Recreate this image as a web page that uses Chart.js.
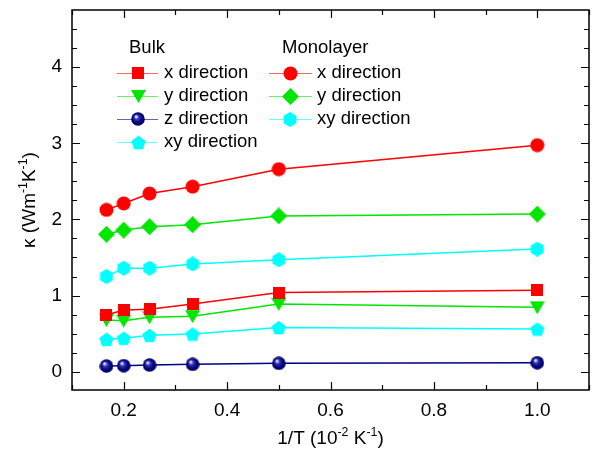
<!DOCTYPE html>
<html>
<head>
<meta charset="utf-8">
<script src="https://cdn.jsdelivr.net/npm/chart.js@4/dist/chart.umd.min.js"></script>
<style>
html,body{margin:0;padding:0;background:#fff;}
#wrap{width:598px;height:452px;position:relative;}
</style>
</head>
<body>
<div id="wrap"><canvas id="c" width="598" height="452"></canvas></div>
<script>
// ---- data ----
const invT = [0.1667, 0.2, 0.25, 0.3333, 0.5, 1.0];
const bulkX = [0.745, 0.81, 0.82, 0.89, 1.04, 1.07];
const bulkY = [0.68, 0.67, 0.715, 0.73, 0.89, 0.845];
const bulkZ = [0.075, 0.08, 0.088, 0.097, 0.11, 0.118];
const bulkXY = [0.425, 0.44, 0.478, 0.495, 0.58, 0.56];
const monoX = [2.125, 2.21, 2.34, 2.43, 2.66, 2.975];
const monoY = [1.805, 1.86, 1.905, 1.93, 2.046, 2.07];
const monoXY = [1.25, 1.36, 1.36, 1.415, 1.47, 1.61];
const xTicks = [0.2, 0.4, 0.6, 0.8, 1.0];
const xTickLabels = ['0.2', '0.4', '0.6', '0.8', '1.0'];
const yTicks = [0, 1, 2, 3, 4];
const yTickLabels = ['0', '1', '2', '3', '4'];
const groupTitles = ['Bulk', 'Monolayer'];
const seriesLabels = ['x direction', 'y direction', 'z direction', 'xy direction', 'x direction', 'y direction', 'xy direction'];

const FONT = '"Liberation Sans", Arial, sans-serif';
const RED = '#ff0000', GREEN = '#00e600', NAVY = '#000080', CYAN = '#00ffff';

function mk(w, h, fn) {
  const c = document.createElement('canvas');
  c.width = w; c.height = h;
  const g = c.getContext('2d');
  fn(g, w, h);
  return c;
}
function poly(g, cx, cy, r, n, rot) {
  g.beginPath();
  for (let i = 0; i < n; i++) {
    const a = rot + i * 2 * Math.PI / n;
    const px = cx + r * Math.cos(a), py = cy + r * Math.sin(a);
    if (i === 0) g.moveTo(px, py); else g.lineTo(px, py);
  }
  g.closePath();
}
const mSquare = mk(12, 12, (g) => { g.fillStyle = RED; g.fillRect(0, 0, 12, 12); });
const mCircle = mk(15, 15, (g) => { g.fillStyle = RED; g.beginPath(); g.arc(7.5, 7.5, 7, 0, 2 * Math.PI); g.fill(); });
const mTri = mk(15, 14, (g) => { g.fillStyle = GREEN; g.beginPath(); g.moveTo(0, 1); g.lineTo(15, 1); g.lineTo(7.5, 14); g.closePath(); g.fill(); });
const mDiamond = mk(17, 17, (g) => { g.fillStyle = GREEN; g.beginPath(); g.moveTo(8.5, 0); g.lineTo(17, 8.5); g.lineTo(8.5, 17); g.lineTo(0, 8.5); g.closePath(); g.fill(); });
const mHex = mk(14, 15, (g) => { g.fillStyle = CYAN; poly(g, 7, 7.5, 7.4, 6, -Math.PI / 2); g.fill(); });
const mPent = mk(15, 15, (g) => { g.fillStyle = CYAN; poly(g, 7.5, 8.2, 7.5, 5, -Math.PI / 2); g.fill(); });
const mBall = mk(14, 14, (g) => {
  const gr = g.createRadialGradient(5, 4.5, 0.5, 7, 7, 7);
  gr.addColorStop(0, '#e8e8ff');
  gr.addColorStop(0.3, '#3030a8');
  gr.addColorStop(0.7, '#000080');
  gr.addColorStop(1, '#00004a');
  g.fillStyle = gr; g.beginPath(); g.arc(7, 7, 6.8, 0, 2 * Math.PI); g.fill();
});

function pts(ys) { return invT.map((x, i) => ({ x: x, y: ys[i] })); }
function ds(label, ys, color, marker) {
  return { label: label, data: pts(ys), borderColor: color, backgroundColor: color, borderWidth: 1.5,
    pointStyle: marker, pointRadius: 7, pointHoverRadius: 7, showLine: true, tension: 0, _marker: marker };
}
const datasets = [
  ds(seriesLabels[0], bulkX, RED, mSquare),
  ds(seriesLabels[1], bulkY, GREEN, mTri),
  ds(seriesLabels[2], bulkZ, NAVY, mBall),
  ds(seriesLabels[3], bulkXY, CYAN, mPent),
  ds(seriesLabels[4], monoX, RED, mCircle),
  ds(seriesLabels[5], monoY, GREEN, mDiamond),
  ds(seriesLabels[6], monoXY, CYAN, mHex)
];

function richWidth(ctx, parts, size) {
  let w = 0;
  parts.forEach(p => { ctx.font = (p.sup ? size * 0.65 : size) + 'px ' + FONT; w += ctx.measureText(p.t).width; });
  return w;
}
function drawRich(ctx, parts, x, y, size) {
  const w = richWidth(ctx, parts, size);
  let cx = x - w / 2;
  ctx.textAlign = 'left'; ctx.textBaseline = 'middle';
  parts.forEach(p => {
    ctx.font = (p.sup ? size * 0.65 : size) + 'px ' + FONT;
    ctx.fillText(p.t, cx, p.sup ? y - size * 0.35 : y);
    cx += ctx.measureText(p.t).width;
  });
}

const framePlugin = {
  id: 'frame',
  afterDatasetsDraw(chart) {
    const ctx = chart.ctx, a = chart.chartArea, xs = chart.scales.x, ys = chart.scales.y;
    ctx.save();
    ctx.strokeStyle = '#000'; ctx.lineWidth = 1.5;
    ctx.strokeRect(a.left, a.top, a.right - a.left, a.bottom - a.top);
    ctx.lineWidth = 1.2;
    ctx.beginPath();
    for (let v = 0.1; v <= 1.1001; v += 0.1) {
      const px = Math.round(xs.getPixelForValue(v)) + 0.5;
      const major = Math.abs(v * 5 - Math.round(v * 5)) < 1e-6;
      const L = major ? 8 : 5;
      ctx.moveTo(px, a.bottom); ctx.lineTo(px, a.bottom - L);
      ctx.moveTo(px, a.top); ctx.lineTo(px, a.top + L);
    }
    for (let v = -0.25; v <= 4.75; v += 0.25) {
      const py = Math.round(ys.getPixelForValue(v)) + 0.5;
      if (py < a.top + 1 || py > a.bottom - 1) continue;
      const major = Math.abs(v - Math.round(v)) < 1e-6;
      const L = major ? 8 : 5;
      ctx.moveTo(a.left, py); ctx.lineTo(a.left + L, py);
      ctx.moveTo(a.right, py); ctx.lineTo(a.right - L, py);
    }
    ctx.stroke();
    ctx.restore();
  },
  afterDraw(chart) {
    const ctx = chart.ctx, a = chart.chartArea;
    ctx.save();
    ctx.fillStyle = '#000';
    // axis titles
    drawRich(ctx, [{ t: '1/T (10' }, { t: '-2', sup: true }, { t: ' K' }, { t: '-1', sup: true }, { t: ')' }], (a.left + a.right) / 2, 439, 19);
    ctx.save();
    ctx.translate(30, (a.top + a.bottom) / 2);
    ctx.rotate(-Math.PI / 2);
    drawRich(ctx, [{ t: 'κ (Wm' }, { t: '-1', sup: true }, { t: 'K' }, { t: '-1', sup: true }, { t: ')' }], 0, 0, 19);
    ctx.restore();
    // legend
    ctx.font = '18.5px ' + FONT; ctx.textAlign = 'left'; ctx.textBaseline = 'middle';
    ctx.fillText(groupTitles[0], 129, 48);
    ctx.fillText(groupTitles[1], 282, 48);
    const rows = [73, 96, 119, 142];
    const cols = [{ l0: 117, l1: 158, m: 138, t: 164 }, { l0: 269, l1: 312, m: 290, t: 317 }];
    const groups = [[0, 1, 2, 3], [4, 5, 6]];
    groups.forEach((g, gi) => {
      const c = cols[gi];
      g.forEach((di, ri) => {
        const d = datasets[di], y = rows[ri];
        ctx.strokeStyle = d.borderColor; ctx.globalAlpha = 0.6; ctx.lineWidth = 1.2;
        ctx.beginPath(); ctx.moveTo(c.l0, y + 0.5); ctx.lineTo(c.l1, y + 0.5); ctx.stroke();
        ctx.globalAlpha = 1;
        const m = d._marker;
        ctx.drawImage(m, Math.round(c.m - m.width / 2), Math.round(y - m.height / 2));
        ctx.fillStyle = '#000';
        ctx.fillText(d.label, c.t, y);
      });
    });
    ctx.restore();
  }
};

new Chart(document.getElementById('c'), {
  type: 'scatter',
  data: { datasets: datasets },
  options: {
    responsive: false, animation: false, devicePixelRatio: 1,
    layout: { padding: { left: 0, right: 9, top: 10, bottom: 0 } },
    plugins: { legend: { display: false }, tooltip: { enabled: false } },
    scales: {
      x: {
        type: 'linear', min: 0.1, max: 1.1,
        grid: { display: false, drawTicks: false }, border: { display: false },
        afterBuildTicks: (s) => { s.ticks = xTicks.map(v => ({ value: v })); },
        afterFit: (s) => { s.height = 62; s.paddingLeft = 0; s.paddingRight = 0; },
        ticks: { padding: 9, color: '#000', font: { family: FONT, size: 19 }, maxRotation: 0,
          callback: (v) => { const i = xTicks.findIndex(t => Math.abs(t - v) < 1e-6); return i >= 0 ? xTickLabels[i] : ''; } }
      },
      y: {
        type: 'linear', min: -0.24, max: 4.75,
        grid: { display: false, drawTicks: false }, border: { display: false },
        afterBuildTicks: (s) => { s.ticks = yTicks.map(v => ({ value: v })); },
        afterFit: (s) => { s.width = 72; s.paddingTop = 0; s.paddingBottom = 0; },
        ticks: { padding: 10, color: '#000', font: { family: FONT, size: 19 },
          callback: (v) => { const i = yTicks.findIndex(t => Math.abs(t - v) < 1e-6); return i >= 0 ? yTickLabels[i] : ''; } }
      }
    }
  },
  plugins: [framePlugin]
});
</script>
</body>
</html>
